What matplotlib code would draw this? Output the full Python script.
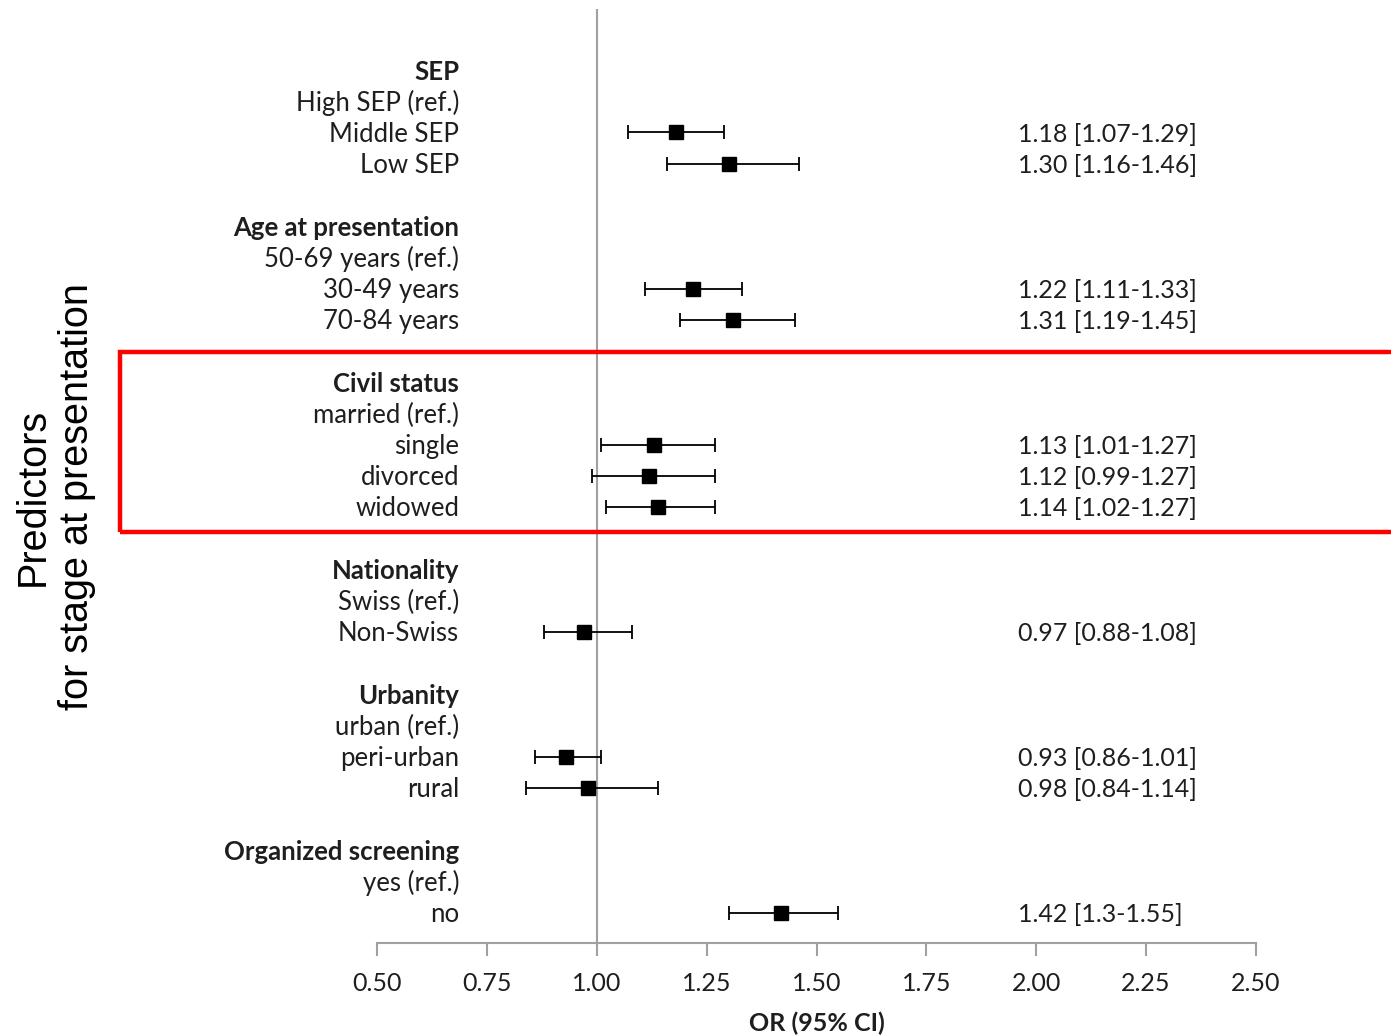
import matplotlib
matplotlib.use('Agg')
import matplotlib.pyplot as plt
from matplotlib.patches import Rectangle
import numpy as np

plt.rcParams['font.family'] = ['Lato', 'DejaVu Sans']

# rows of the forest plot, top to bottom ('' = blank spacer row)
labels = ['SEP', 'High SEP (ref.)', 'Middle SEP', 'Low SEP', '',
          'Age at presentation', '50-69 years (ref.)', '30-49 years', '70-84 years', '',
          'Civil status', 'married (ref.)', 'single', 'divorced', 'widowed', '',
          'Nationality', 'Swiss (ref.)', 'Non-Swiss', '',
          'Urbanity', 'urban (ref.)', 'peri-urban', 'rural', '',
          'Organized screening', 'yes (ref.)', 'no']
headers = ['SEP', 'Age at presentation', 'Civil status', 'Nationality',
           'Urbanity', 'Organized screening']

# estimates (None for header / reference / blank rows)
est_rows = ['Middle SEP', 'Low SEP', '30-49 years', '70-84 years', 'single',
            'divorced', 'widowed', 'Non-Swiss', 'peri-urban', 'rural', 'no']
or_vals = [1.18, 1.30, 1.22, 1.31, 1.13, 1.12, 1.14, 0.97, 0.93, 0.98, 1.42]
ci_low = [1.07, 1.16, 1.11, 1.19, 1.01, 0.99, 1.02, 0.88, 0.86, 0.84, 1.30]
ci_high = [1.29, 1.46, 1.33, 1.45, 1.27, 1.27, 1.27, 1.08, 1.01, 1.14, 1.55]
ci_text = ['1.18 [1.07-1.29]', '1.30 [1.16-1.46]', '1.22 [1.11-1.33]',
           '1.31 [1.19-1.45]', '1.13 [1.01-1.27]', '1.12 [0.99-1.27]',
           '1.14 [1.02-1.27]', '0.97 [0.88-1.08]', '0.93 [0.86-1.01]',
           '0.98 [0.84-1.14]', '1.42 [1.3-1.55]']
xticks = [0.50, 0.75, 1.00, 1.25, 1.50, 1.75, 2.00, 2.25, 2.50]

txt_col = '#1e1e1e'
W, H = 1391, 1036
fig = plt.figure(figsize=(W / 100, H / 100), dpi=100)
ax = fig.add_axes([377 / W, (1036 - 943) / H, (1256 - 377) / W, (943 - 9) / H])

ypos = [labels.index(r) for r in est_rows]
xerr = [np.array(or_vals) - np.array(ci_low), np.array(ci_high) - np.array(or_vals)]
ax.errorbar(or_vals, ypos, xerr=xerr, fmt='s', color='black', ms=10,
            elinewidth=1.3, capsize=5, capthick=1.3, zorder=3)

ax.axvline(1.0, color='#a0a0a0', lw=1.5, zorder=1)

for i, lab in enumerate(labels):
    if not lab:
        continue
    bold = lab in headers
    ax.text(0.687, i + 0.05, lab, ha='right', va='center', fontsize=18.5,
            fontweight='bold' if bold else 'normal', color=txt_col)

for y, t in zip(ypos, ci_text):
    ax.text(1.958, y + 0.05, t, ha='left', va='center', fontsize=18, color=txt_col)

ax.set_xlim(0.5, 2.5)
ax.set_ylim(27.96, -1.954)
ax.set_xticks(xticks)
ax.set_xticklabels([f'{v:.2f}' for v in xticks], fontsize=18, color=txt_col)
ax.tick_params(axis='x', direction='out', length=9, width=1.5, color='#a0a0a0', pad=12)
ax.set_yticks([])
for s in ['left', 'top', 'right']:
    ax.spines[s].set_visible(False)
ax.spines['bottom'].set_color('#a0a0a0')
ax.spines['bottom'].set_linewidth(1.5)
ax.set_xlabel('OR (95% CI)', fontsize=18, fontweight='bold', color=txt_col, labelpad=12)

fig.text(55 / W, 1 - 497 / H, 'Predictors\nfor stage at presentation',
         rotation=90, ha='center', va='center', fontsize=28.5,
         family='Liberation Sans', color='black', linespacing=1.2)

fig.patches.append(Rectangle((120 / W, 1 - 532 / H), 1.0, (532 - 352) / H,
                             transform=fig.transFigure, fill=False,
                             edgecolor='#ff0000', lw=3.2, clip_on=False))

fig.savefig('out.png', dpi=100)
